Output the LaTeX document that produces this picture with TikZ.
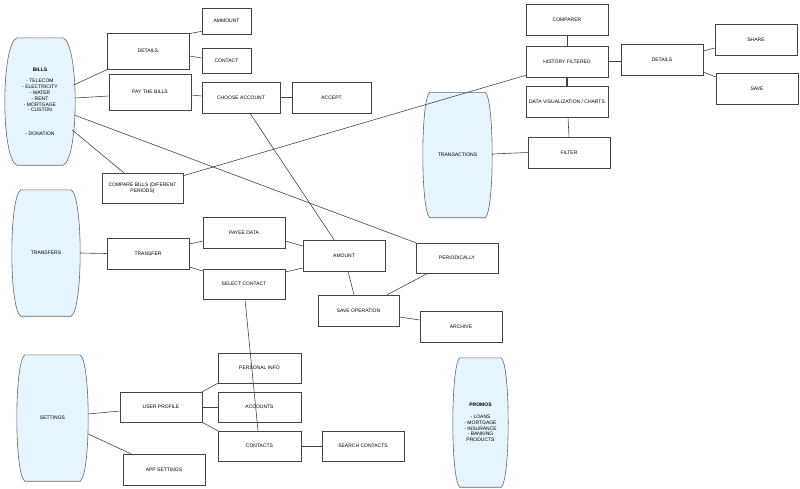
\documentclass[tikz,border=0pt]{standalone}
\usepackage{fontspec}
\setmainfont{Liberation Sans}
\usepackage{tikz}
\usetikzlibrary{calc}
\usetikzlibrary{backgrounds}
\definecolor{barrelblue}{HTML}{E6F4FD}
\definecolor{linegray}{HTML}{444444}
\tikzset{
    mybox/.style = {rectangle, draw=linegray, line width=0.6pt, align=center, inner sep=0pt,
                    minimum width=82pt, minimum height=31pt, text=black,
                    font=\fontsize{5}{5.8}\selectfont},
    mybarrel/.style = {rectangle, draw=none, align=center, inner sep=0pt, text=black,
                    font=\fontsize{5}{5.8}\selectfont},
    barrelline/.style = {draw=black!60, line width=0.6pt, fill=barrelblue},
    edgen/.style = {-, line width=0.6pt, linegray},
    edgeb/.style = {-, line width=1.1pt, linegray}, % doubled link
}
% outline of a barrel round a named node, #2 = corner inset
\newcommand{\drawbarrel}[2]{%
  \path[barrelline] ($(#1.north west)+(#2,0)$) -- ($(#1.north east)+(-#2,0)$)
    .. controls ($(#1.north east)+(#2/3,7)$) and ($(#1.south east)+(#2/3,-7)$) .. ($(#1.south east)+(-#2,0)$)
    -- ($(#1.south west)+(#2,0)$)
    .. controls ($(#1.south west)+(-#2/3,-7)$) and ($(#1.north west)+(-#2/3,7)$) .. cycle;}

\begin{document}
\begin{tikzpicture}[x=1pt, y=-1pt]
  \useasboundingbox (0,0) rectangle (800,488);

  % barrels
  \node[mybarrel, minimum width=70pt, minimum height=127pt] (bills) at (40,101.5)
    {\textbf{BILLS}\\ \\- TELECOM\\- ELECTRICITY\\- WATER\\- RENT\\- MORTGAGE\\- CUSTON\\ \\ \\ \\- DONATION};
  \node[mybarrel, minimum width=68pt, minimum height=126pt] (transfers) at (46,253) {TRANSFERS};
  \node[mybarrel, minimum width=71pt, minimum height=126pt] (settings) at (52.5,418) {SETTINGS};
  \node[mybarrel, minimum width=69pt, minimum height=125pt] (transactions) at (457.5,155) {TRANSACTIONS};
  \node[mybarrel, minimum width=55pt, minimum height=129pt] (promos) at (480.5,422.5)
    {\textbf{PROMOS}\\ \\- LOANS\\- MORTGAGE\\- INSURANCE\\- BANKING\\PRODUCTS};

  \begin{scope}[on background layer]
    \foreach \n/\c in {bills/12, transfers/9, settings/8, transactions/7, promos/7}
      {\drawbarrel{\n}{\c}}
  \end{scope}

  % bills
  \node[mybox, minimum height=36pt] (detb) at (148,51) {DETAILS};
  \node[mybox, minimum width=49pt, minimum height=26pt] (ammount) at (226.5,21) {AMMOUNT};
  \node[mybox, minimum width=49pt, minimum height=25pt] (contact) at (226.5,60.5) {CONTACT};
  \node[mybox, minimum height=36pt] (paybills) at (150,92) {PAY THE BILLS};
  \node[mybox, minimum width=78pt] (chooseacc) at (241,97.5) {CHOOSE ACCOUNT};
  \node[mybox, minimum width=79pt] (accept) at (331.5,97.5) {ACCEPT};
  \node[mybox, minimum width=81pt, minimum height=30pt] (compare) at (142.5,188) {COMPARE BILLS (DIFERENT\\PERIODS)};

  % transactions
  \node[mybox] (comparer) at (567,19.5) {COMPARER};
  \node[mybox] (history) at (567,61.5) {HISTORY FILTERED};
  \node[mybox] (dataviz) at (567,101.5) {DATA VISUALIZATION / CHARTS};
  \node[mybox] (filter) at (569,152.5) {FILTER};
  \node[mybox] (dett) at (662,59.5) {DETAILS};
  \node[mybox] (share) at (756,39.5) {SHARE};
  \node[mybox] (save) at (757,88.5) {SAVE};

  % transfers
  \node[mybox] (transfer) at (148,253.5) {TRANSFER};
  \node[mybox] (payee) at (244,232.5) {PAYEE DATA};
  \node[mybox, minimum height=30pt] (selcontact) at (244,284) {SELECT CONTACT};
  \node[mybox] (amount) at (344,255.5) {AMOUNT};
  \node[mybox, minimum height=30pt] (periodically) at (457,258) {PERIODICALLY};
  \node[mybox, minimum width=81pt] (saveop) at (358.5,310.5) {SAVE OPERATION};
  \node[mybox] (archive) at (461,326.5) {ARCHIVE};

  % settings
  \node[mybox, minimum width=83pt, minimum height=30pt] (personal) at (259.5,368) {PERSONAL INFO};
  \node[mybox, minimum width=83pt, minimum height=30pt] (accounts) at (259.5,407) {ACCOUNTS};
  \node[mybox, minimum width=83pt, minimum height=30pt] (contacts) at (259.5,446) {CONTACTS};
  \node[mybox, minimum height=30pt] (search) at (363,446) {SEARCH CONTACTS};
  \node[mybox, minimum height=30pt] (userprof) at (161,407) {USER PROFILE};
  \node[mybox] (appsett) at (164,469.5) {APP SETTINGS};

  % links
  \draw[edgen] ([xshift=-1.5pt,yshift=16.5pt]bills.east) -- ([xshift=1pt]detb.south west);
  \draw[edgen] ([yshift=3.5pt]bills.east) -- ([yshift=-4pt]paybills.west);
  \draw[edgen] ([xshift=-1pt,yshift=-13.5pt]bills.east) -- (periodically.north west);
  \draw[edgen] ([xshift=-3pt,yshift=-28.5pt]bills.east) -- ([xshift=22pt]compare.north west);
  \draw[edgen] ([yshift=-1pt]detb.north east) -- ([yshift=3pt]ammount.south west);
  \draw[edgen] ([yshift=-5pt]detb.east) -- ([yshift=2.5pt]contact.west);
  \draw[edgen] ([yshift=-3pt]paybills.east) -- ([yshift=1.5pt]chooseacc.west);
  \draw[edgen] (chooseacc.east) -- (accept.west);
  \draw[edgen] ([xshift=9pt]chooseacc.south) -- ([xshift=-10pt]amount.north);
  \draw[edgen] ([yshift=-3pt]compare.north east) -- ([yshift=2pt]history.south west);
  \draw[edgen] (comparer.south) -- (history.north);
  \draw[edgeb] (history.south) -- (dataviz.north);
  \draw[edgen] ([xshift=1pt]dataviz.south) -- (filter.north);
  \draw[edgen] ([yshift=1pt]transactions.east) -- (filter.west);
  \draw[edgen] (history.east) -- ([yshift=-2pt]dett.west);
  \draw[edgen] ([yshift=8.5pt]dett.east) -- ([yshift=-8.5pt]share.west);
  \draw[edgen] ([yshift=-12.5pt]dett.east) -- ([yshift=11.5pt]save.west);
  \draw[edgen] (transfers.east) -- (transfer.west);
  \draw[edgen] ([yshift=9.5pt]transfer.east) -- ([yshift=-8.5pt]payee.west);
  \draw[edgen] ([yshift=-13.5pt]transfer.east) -- ([yshift=13pt]selcontact.west);
  \draw[edgen] ([yshift=-8.5pt]payee.east) -- ([yshift=9.5pt]amount.west);
  \draw[edgen] ([yshift=12pt]selcontact.east) -- ([yshift=-12.5pt]amount.west);
  \draw[edgen] ([xshift=1pt]selcontact.south) -- ([xshift=-1.5pt]contacts.north);
  \draw[edgen] ([xshift=4pt]amount.south) -- ([xshift=-4.5pt]saveop.north);
  \draw[edgen] ([xshift=12pt]periodically.south west) -- ([xshift=-12pt]saveop.north east);
  \draw[edgen] ([yshift=-6.5pt]saveop.east) -- ([yshift=6.5pt]archive.west);
  \draw[edgen] ([yshift=4pt]settings.east) -- ([yshift=-4pt]userprof.west);
  \draw[edgen] ([yshift=-16pt]settings.east) -- ([xshift=8pt]appsett.north west);
  \draw[edgen] (userprof.north east) -- (personal.south west);
  \draw[edgen] (userprof.east) -- (accounts.west);
  \draw[edgen] (userprof.south east) -- (contacts.north west);
  \draw[edgen] (contacts.east) -- (search.west);
\end{tikzpicture}
\end{document}
